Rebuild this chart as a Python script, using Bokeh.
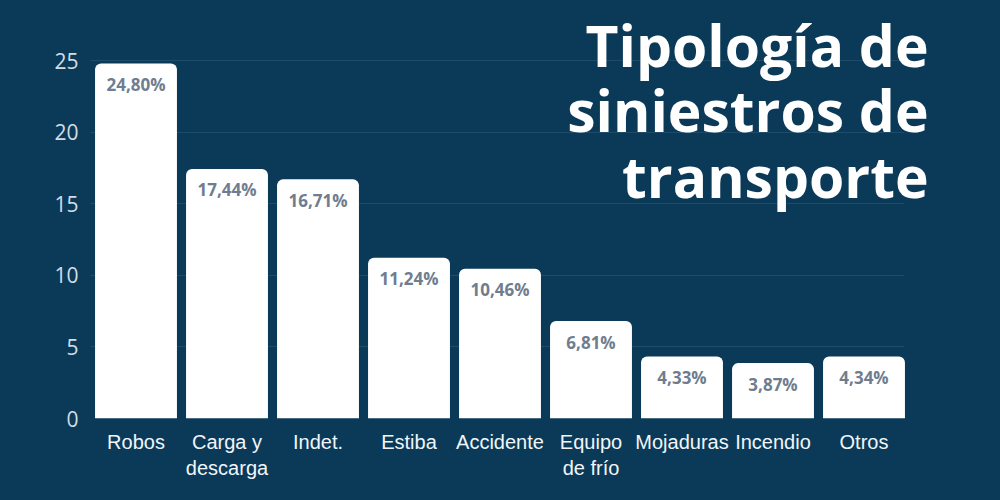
from bokeh.plotting import figure
from bokeh.models import ColumnDataSource, Range1d, FixedTicker, Label
from bokeh.core.properties import value
from bokeh.embed import file_html
from bokeh.resources import INLINE

categories = ["Robos", "Carga y\ndescarga", "Indet.", "Estiba", "Accidente",
              "Equipo\nde frío", "Mojaduras", "Incendio", "Otros"]
values = [24.80, 17.44, 16.71, 11.24, 10.46, 6.81, 4.33, 3.87, 4.34]
labels = ["24,80%", "17,44%", "16,71%", "11,24%", "10,46%", "6,81%", "4,33%", "3,87%", "4,34%"]
y_ticks = [0, 5, 10, 15, 20, 25]
title_lines = ["Tipología de", "siniestros de", "transporte"]

BG = "#0b3a58"

idx = list(range(len(categories)))
src = ColumnDataSource(dict(x=idx, val=values, lab=labels))

p = figure(width=1000, height=500, x_range=Range1d(-0.5, 9.5),
           y_range=Range1d(0, 29), output_backend="svg", toolbar_location=None,
           min_border_left=90, min_border_right=0, min_border_top=3, min_border_bottom=82)
p.background_fill_color = BG
p.border_fill_color = BG
p.outline_line_color = None

p.vbar(x="x", top="val", width=0.9, source=src, fill_color="white",
       line_color=None, border_radius=(6, 6, 0, 0))

p.text(x="x", y="val", text="lab", source=src, text_align="center",
       text_baseline="middle", y_offset=21, text_color="#6f7d8f",
       text_font=value("Open Sans"), text_font_style="bold", text_font_size="17px")

p.xgrid.grid_line_color = None
p.ygrid.grid_line_color = "#2a5773"
p.ygrid.grid_line_alpha = 0.6
p.ygrid.grid_line_width = 1
p.ygrid.cross_bounds = (-0.5, 8.45)
p.yaxis.ticker = FixedTicker(ticks=y_ticks)
p.xaxis.ticker = FixedTicker(ticks=idx)
p.xaxis.major_label_overrides = {i: c for i, c in zip(idx, categories)}

for ax in (p.xaxis, p.yaxis):
    ax.axis_line_color = None
    ax.major_tick_line_color = None
    ax.minor_tick_line_color = None

p.yaxis.major_label_text_color = "#d3dde6"
p.yaxis.major_label_text_font = "Open Sans"
p.yaxis.major_label_text_font_size = "21px"
p.yaxis.major_label_standoff = 6

p.xaxis.major_label_text_color = "#f2f5f8"
p.xaxis.major_label_text_font = "Liberation Sans"
p.xaxis.major_label_text_font_size = "20px"
p.xaxis.major_label_standoff = 6

ys = [26.07, 21.53, 16.98]
for t, yv in zip(title_lines, ys):
    p.add_layout(Label(x=8.71, y=yv, text=t, text_align="right",
                       text_baseline="alphabetic", text_color="white",
                       text_font="Open Sans", text_font_style="bold",
                       text_font_size="57px"))

html = file_html(p, INLINE)
html = html.replace("<head>", "<head><style>html,body{background:%s;margin:0;}</style>" % BG, 1)
open("out.html", "w").write(html)
